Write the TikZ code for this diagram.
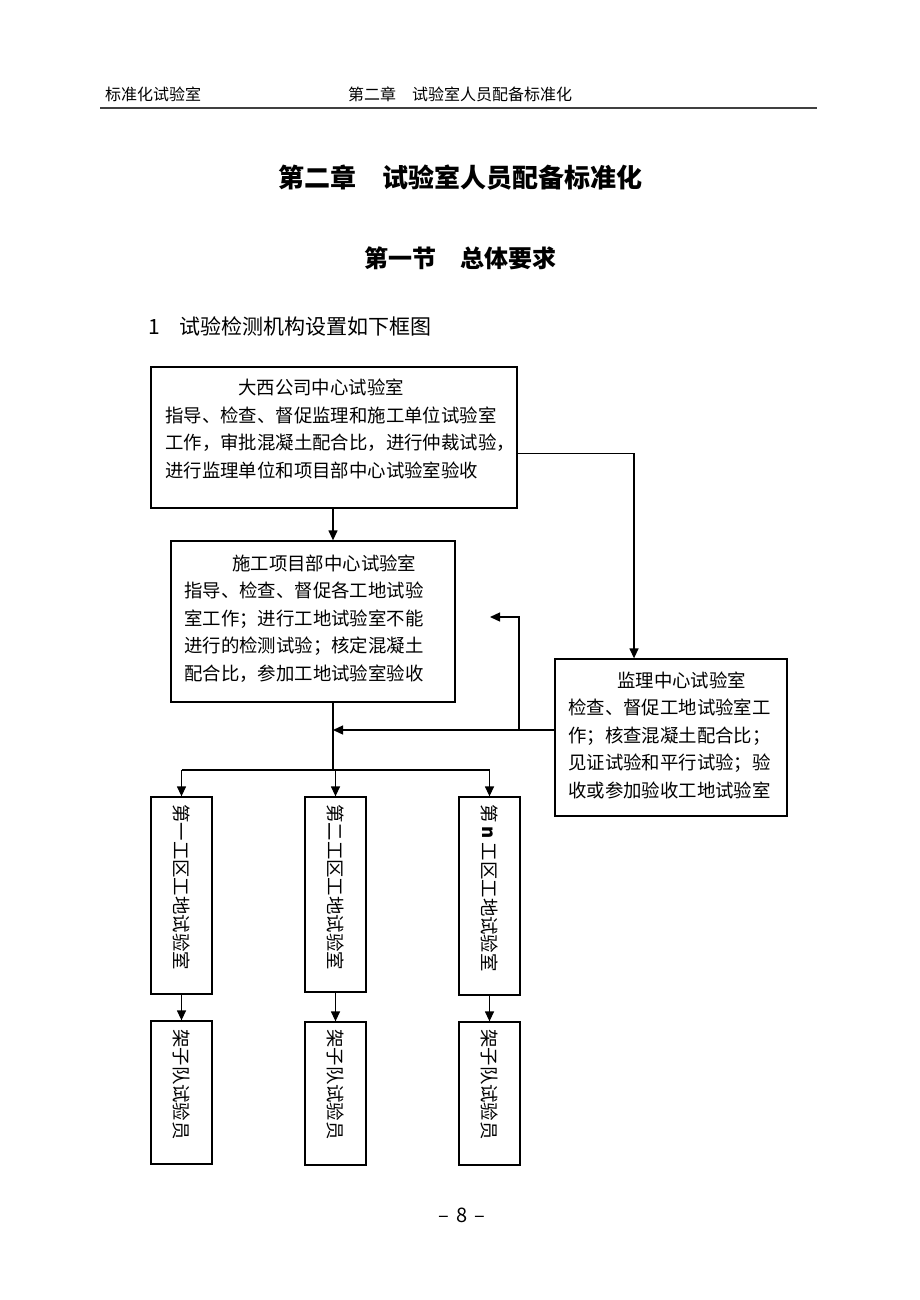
\documentclass[tikz,border=0pt]{standalone}
\usepackage{fontspec}
\setmainfont{Noto Sans CJK SC}
\usetikzlibrary{arrows.meta, positioning, calc}

\begin{document}
\begin{tikzpicture}[x=1pt, y=-1pt,
  labbox/.style={draw, line width=1.3pt, inner sep=0pt},
  labtext/.style={align=left, inner sep=0pt, anchor=base west, font=\fontsize{18.4}{27.5}\selectfont},
  vlabel/.style={rotate=-90, anchor=west, inner sep=0pt, font=\fontsize{18.4}{22}\selectfont},
  headtext/.style={inner sep=0pt, anchor=base west, font=\fontsize{16}{16}\selectfont},
  link/.style={line width=1.3pt},
  flow/.style={line width=1.3pt, -{Triangle[length=10pt, width=9pt]}}
]
  \useasboundingbox (0,0) rectangle (920,1300);

  % Page head
  \node[headtext] (headl) at (105,101) {标准化试验室};
  \node[headtext] (headr) at (348,101) {第二章\hspace{1em}试验室人员配备标准化};
  \draw[line width=2.5pt, black!75] (100,108) -- (817,108);

  % Titles
  \node[anchor=base, inner sep=0pt, font=\fontsize{26}{26}\selectfont\bfseries] (chap) at (460,187) {第二章\hspace{1em}试验室人员配备标准化};
  \node[anchor=base, inner sep=0pt, font=\fontsize{24}{24}\selectfont\bfseries] (sect) at (460,267) {第一节\hspace{1em}总体要求};
  \node[anchor=base west, inner sep=0pt, font=\fontsize{21}{21}\selectfont] (item) at (148,334) {1\hspace{20pt}试验检测机构设置如下框图};

  % Company lab
  \node[labbox, minimum width=366, minimum height=141] (dx) at (334,437.5) {};
  \node[labtext] (dxtext) at (165,477) {\hspace*{73pt}大西公司中心试验室\\
    指导、检查、督促监理和施工单位试验室\\
    工作，审批混凝土配合比，进行仲裁试验，\\
    进行监理单位和项目部中心试验室验收};

  % Site lab
  \node[labbox, minimum width=284, minimum height=161] (sg) at (313,621.5) {};
  \node[labtext] (sgtext) at (184,680) {\hspace*{48pt}施工项目部中心试验室\\
    指导、检查、督促各工地试验\\
    室工作；进行工地试验室不能\\
    进行的检测试验；核定混凝土\\
    配合比，参加工地试验室验收};

  % Supervision lab
  \node[labbox, minimum width=232, minimum height=157] (jl) at (671,737.5) {};
  \node[labtext] (jltext) at (568,797) {\hspace*{49pt}监理中心试验室\\
    检查、督促工地试验室工\\
    作；核查混凝土配合比；\\
    见证试验和平行试验；验\\
    收或参加验收工地试验室};

  % Work area labs
  \node[labbox, minimum width=61, minimum height=197] (g1) at (181.5,895.5) {};
  \node[labbox, minimum width=61, minimum height=195] (g2) at (335.5,894.5) {};
  \node[labbox, minimum width=61, minimum height=198] (g3) at (489.5,896) {};
  \node[vlabel] (g1text) at (181.5,804) {第一工区工地试验室};
  \node[vlabel] (g2text) at (335.5,804) {第二工区工地试验室};
  \node[vlabel] (g3text) at (489.5,804) {第 \textbf{n} 工区工地试验室};

  % Testers
  \node[labbox, minimum width=61, minimum height=143] (t1) at (181.5,1092.5) {};
  \node[labbox, minimum width=61, minimum height=143] (t2) at (335.5,1093.5) {};
  \node[labbox, minimum width=61, minimum height=143] (t3) at (489.5,1093.5) {};
  \node[vlabel] (t1text) at (181.5,1029) {架子队试验员};
  \node[vlabel] (t2text) at (335.5,1029) {架子队试验员};
  \node[vlabel] (t3text) at (489.5,1029) {架子队试验员};

  % Connectors
  \coordinate (fork) at (333,770);
  \coordinate (merge) at (333,730);
  \coordinate (bend) at (519,730);
  \coordinate (tip) at (490,617);

  \draw[flow] (dx.south -| fork) -- (sg.north -| fork);
  \draw[flow] ([yshift=-16pt]dx.east) -| ([xshift=-37pt]jl.north);
  \draw[link] (sg.south -| fork) -- (fork);
  \draw[flow] (jl.west |- merge) -- (merge);
  \draw[flow] (bend) |- (tip);
  \draw[link] (fork -| g1.north) -- (fork -| g3.north);
  \draw[flow] (fork -| g1.north) -- (g1.north);
  \draw[flow] (fork -| g2.north) -- (g2.north);
  \draw[flow] (fork -| g3.north) -- (g3.north);
  \draw[flow] (g1.south) -- (t1.north);
  \draw[flow] (g2.south) -- (t2.north);
  \draw[flow] (g3.south) -- (t3.north);

  % Page number
  \node[anchor=base, inner sep=0pt, font=\fontsize{20}{20}\selectfont] (pageno) at (462,1222) {–\hspace{7pt}8\hspace{7pt}–};
\end{tikzpicture}
\end{document}
